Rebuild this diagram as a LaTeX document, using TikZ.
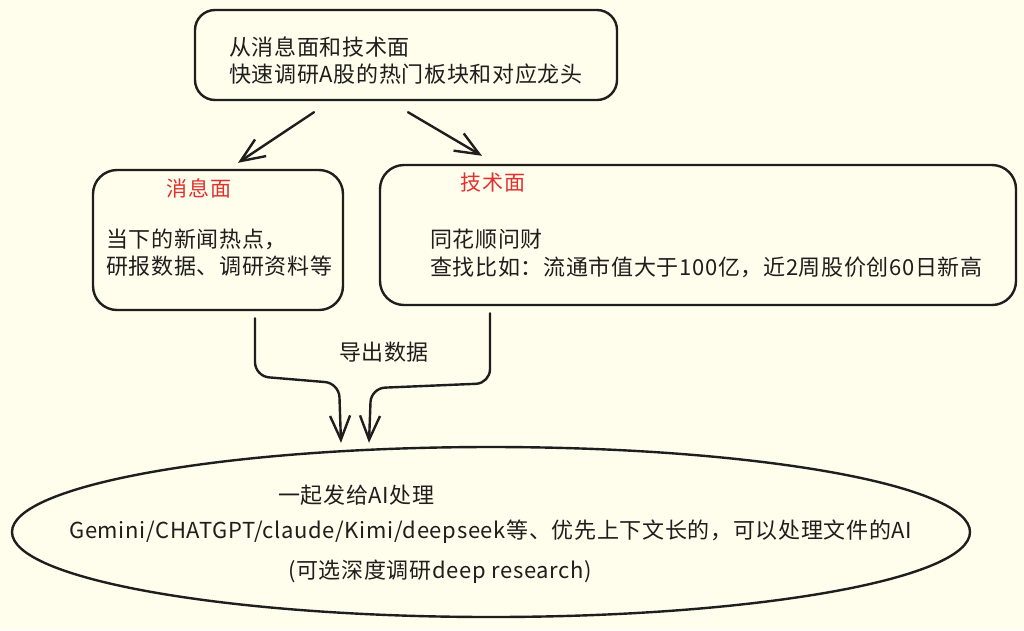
\documentclass[tikz,border=0pt]{standalone}
\usepackage{fontspec}
\setmainfont[LetterSpace=3]{Noto Sans CJK SC}
\usetikzlibrary{arrows.meta,shapes.geometric,calc}
\definecolor{bg}{HTML}{FFFDEB}
\definecolor{ink}{HTML}{1E1E1E}
\definecolor{redt}{HTML}{E03131}
\tikzset{
  boxsty/.style={draw=ink, line width=2.4pt, rounded corners=24pt, inner sep=0pt},
  txt/.style={font=\fontsize{22}{27.5}\selectfont, text=ink, align=left, inner sep=0pt},
  title/.style={font=\fontsize{21}{26}\selectfont, text=redt, inner sep=0pt},
  arr/.style={draw=ink, line width=2.4pt, line cap=round, line join=round,
    -{Straight Barb[length=24pt,width=20pt,line width=2.4pt]}},
}
\begin{document}
\begin{tikzpicture}[x=1pt,y=-1pt]
\fill[bg] (0,0) rectangle (1024,630);
\useasboundingbox (0,0) rectangle (1024,630);

% boxes
\node[boxsty, rounded corners=20pt, minimum width=422pt, minimum height=90pt] (top) at (406,55) {};
\node[boxsty, minimum width=250pt, minimum height=140pt] (left) at (218,240) {};
\node[boxsty, minimum width=636pt, minimum height=140pt] (right) at (698,235) {};
\node[draw=ink, line width=2.4pt, ellipse, minimum width=958pt, minimum height=170pt, inner sep=0pt] (ell) at (491,532) {};

% texts
\node[txt, anchor=west] (toptext) at (229,60.5) {从消息面和技术面\\快速调研A股的热门板块和对应龙头};
\node[title] (lefttitle) at (199,188) {消息面};
\node[txt, anchor=west] (lefttext) at (106,252.5) {当下的新闻热点，\\研报数据、调研资料等};
\node[title] (righttitle) at (493,183) {技术面};
\node[txt, anchor=west] (righttext) at (430,253.5) {同花顺问财\\查找比如：流通市值大于100亿，近2周股价创60日新高};
\node[txt] (label) at (384,352) {导出数据};
\node[txt, anchor=west] (e1) at (278,495) {一起发给AI处理};
\node[txt, anchor=west] (e2) at (69,532) {Gemini/CHATGPT/claude/Kimi/deepseek等、优先上下文长的，可以处理文件的AI};
\node[txt, anchor=west] (e3) at (288,572) {(可选深度调研deep research)};

% coordinates
\coordinate (a1s) at ($(top.south)+(-92,11)$);
\coordinate (a1e) at ($(left.north)+(20,-6)$);
\coordinate (a2s) at ($(top.south)+(2,11)$);
\coordinate (a2e) at ($(right.north)+(-216,-8)$);
\coordinate (b1s) at ($(left.south)+(37,7)$);
\coordinate (b1e) at ($(ell.north)+(-150,-3)$);
\coordinate (b2s) at ($(right.south)+(-208,7)$);
\coordinate (b2e) at ($(ell.north)+(-122,-3)$);

% connectors
\draw[arr] (a1s) -- (a1e);
\draw[arr] (a2s) -- (a2e);
\draw[arr, rounded corners=14pt] (b1s) -- ++(0,58) -- ($(b1e|-b1s)+(-2,65)$) -- (b1e);
\draw[arr, rounded corners=14pt] (b2s) -- ++(0,70) -- ($(b2e|-b2s)+(2,75)$) -- (b2e);
\end{tikzpicture}
\end{document}
